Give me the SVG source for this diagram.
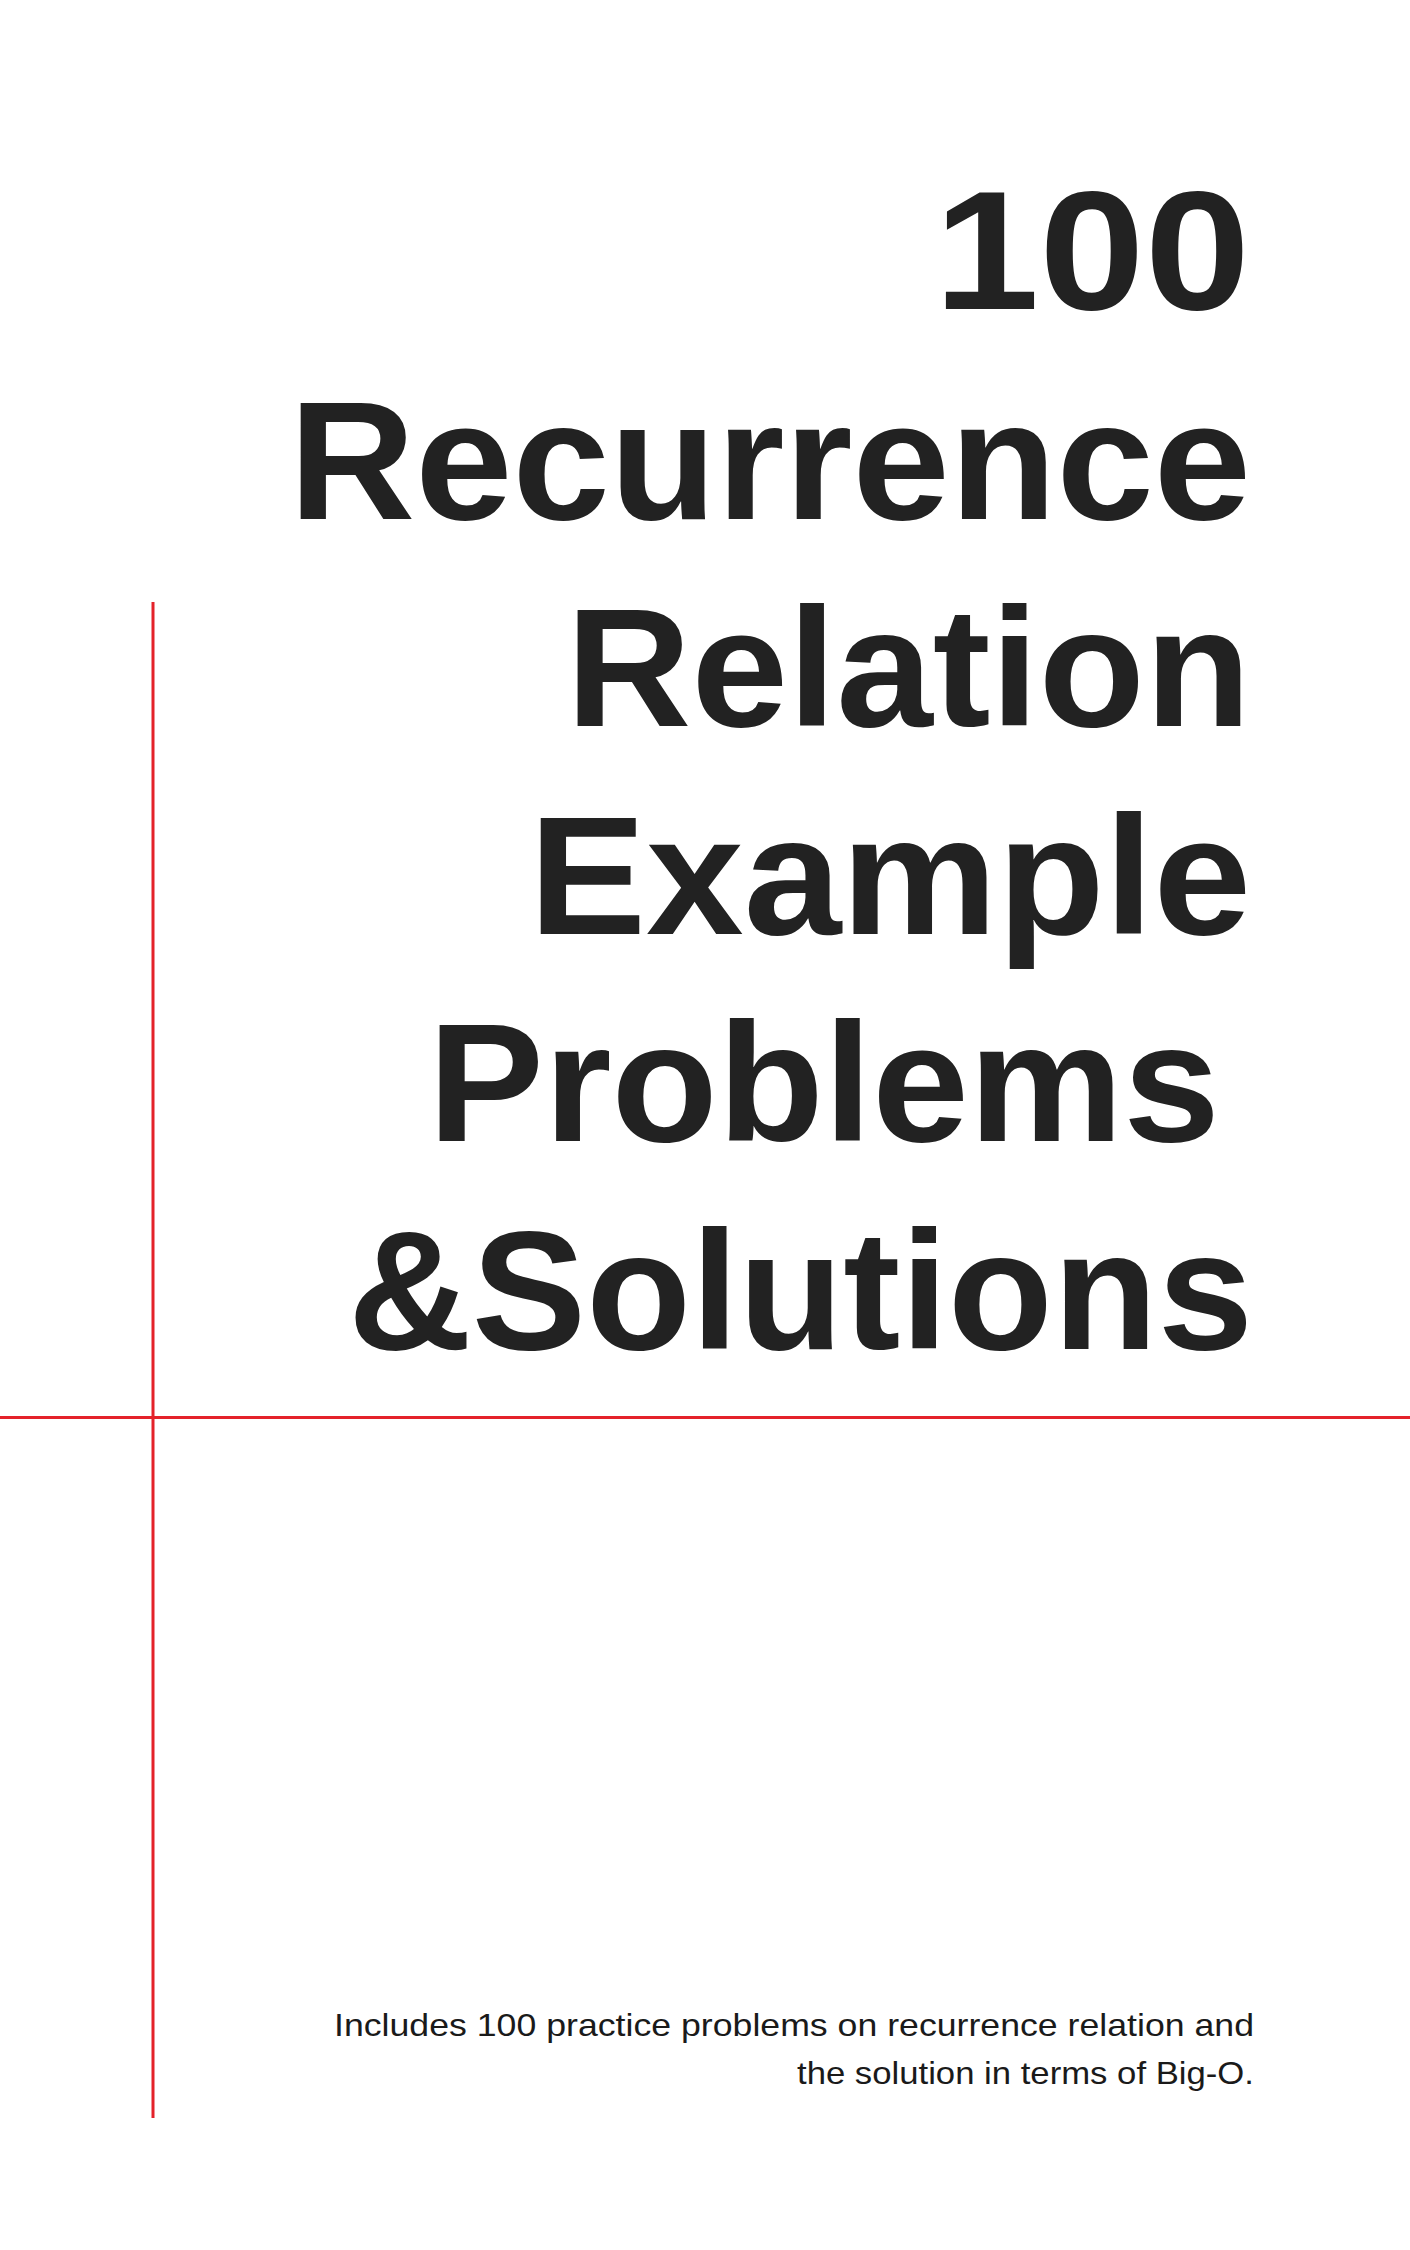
<svg xmlns="http://www.w3.org/2000/svg" width="1410" height="2250" viewBox="0 0 1410 2250">
<style>
.title{font-family:"Liberation Sans",Arial,sans-serif;font-weight:bold;font-size:168px;fill:#222222;text-anchor:end}
.sub{font-family:"Liberation Sans",Arial,sans-serif;font-size:32px;fill:#1a1a1a;text-anchor:end}
.rule{stroke:#e4222a;stroke-width:3;fill:none}
</style>
<rect x="0" y="0" width="1410" height="2250" fill="#ffffff"/>
<g id="rules">
<line class="rule" x1="0" y1="1417.5" x2="1410" y2="1417.5"/>
<line class="rule" x1="153" y1="602" x2="153" y2="2118"/>
</g>
<g id="title">
<text class="title" x="1250" y="309" textLength="316" lengthAdjust="spacingAndGlyphs">100</text>
<text class="title" x="1251" y="519" textLength="962" lengthAdjust="spacingAndGlyphs">Recurrence</text>
<text class="title" x="1251" y="726" textLength="685" lengthAdjust="spacingAndGlyphs">Relation</text>
<text class="title" x="1251" y="934" textLength="722" lengthAdjust="spacingAndGlyphs">Example</text>
<text class="title" x="1220" y="1141" textLength="792" lengthAdjust="spacingAndGlyphs">Problems</text>
<text class="title" x="1253" y="1349" textLength="905" lengthAdjust="spacingAndGlyphs">&amp;Solutions</text>
</g>
<g id="subtitle">
<text class="sub" x="1254" y="2036" textLength="920" lengthAdjust="spacingAndGlyphs">Includes 100 practice problems on recurrence relation and</text>
<text class="sub" x="1254" y="2084" textLength="457" lengthAdjust="spacingAndGlyphs">the solution in terms of Big-O.</text>
</g>
</svg>
